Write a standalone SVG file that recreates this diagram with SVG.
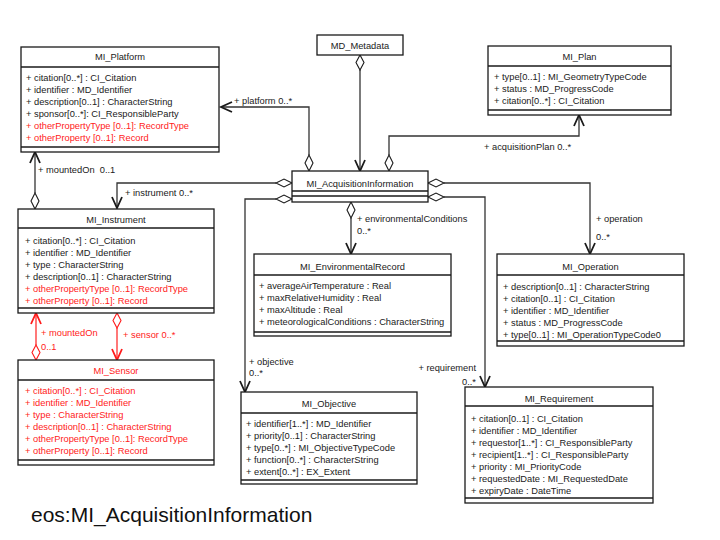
<svg xmlns="http://www.w3.org/2000/svg" width="720" height="540" viewBox="0 0 720 540">
<style>
text{font-family:"Liberation Sans",Arial,sans-serif;font-size:9.3px;fill:#1a1a1a}
.t{text-anchor:middle}
.box{fill:#fff;stroke:#1a1a1a;stroke-width:1.3}
.sep{stroke:#1a1a1a;stroke-width:1.3}
.red text,text.red{fill:#ff1a1a}
.red .box,.red .sep{stroke:#1a1a1a}
.ln{fill:none;stroke:#333;stroke-width:1.3}
.arr{fill:none;stroke:#1a1a1a;stroke-width:1.8}
.dia{fill:#fff;stroke:#1a1a1a;stroke-width:1.1}
.rln{fill:none;stroke:#ff3030;stroke-width:1.3}
.rarr{fill:none;stroke:#ff1a1a;stroke-width:1.8}
.rdia{fill:#fff;stroke:#ff1a1a;stroke-width:1.1}
.big{font-size:21px;fill:#111}
</style>
<rect width="720" height="540" fill="#fff"/>

<g id="connectors">
  <!-- platform -->
  <polyline class="ln" points="309,155 309,107 221,107"/>
  <polyline class="arr" points="232,102 221,107 232,112"/>
  <polygon class="dia" points="309,171 305,163 309,155 313,163"/>
  <text x="234" y="104">+ platform 0..*</text>
  <!-- MD_Metadata -->
  <polyline class="ln" points="360,70 360,171"/>
  <polygon class="dia" points="360,55 356,62.5 360,70 364,62.5"/>
  <polyline class="arr" points="355,160 360,171 365,160"/>
  <!-- acquisitionPlan -->
  <polyline class="ln" points="389,155 389,136 579,136 579,115"/>
  <polygon class="dia" points="389,171 385,163 389,155 393,163"/>
  <polyline class="arr" points="574,126 579,115 584,126"/>
  <text x="484" y="150">+ acquisitionPlan 0..*</text>
  <!-- instrument -->
  <polyline class="ln" points="276,183 117,183 117,208"/>
  <polygon class="dia" points="292,183 284,179 276,183 284,187"/>
  <polyline class="arr" points="112,197 117,208 122,197"/>
  <text x="125" y="195.5">+ instrument 0..*</text>
  <!-- objective -->
  <polyline class="ln" points="276,199 245,199 245,392"/>
  <polygon class="dia" points="292,199 284,195 276,199 284,203"/>
  <polyline class="arr" points="240,381 245,392 250,381"/>
  <text x="249" y="365">+ objective</text>
  <text x="249" y="376">0..*</text>
  <!-- environmentalConditions -->
  <polyline class="ln" points="351,218 351,254"/>
  <polygon class="dia" points="351,202 347,210 351,218 355,210"/>
  <polyline class="arr" points="346,243 351,254 356,243"/>
  <text x="357" y="222">+ environmentalConditions</text>
  <text x="357" y="234">0..*</text>
  <!-- operation -->
  <polyline class="ln" points="444,183 590,183 590,254"/>
  <polygon class="dia" points="428,183 436,179 444,183 436,187"/>
  <polyline class="arr" points="585,243 590,254 595,243"/>
  <text x="596" y="222">+ operation</text>
  <text x="596" y="240">0..*</text>
  <!-- requirement -->
  <polyline class="ln" points="444,197 485,197 485,387"/>
  <polygon class="dia" points="428,197 436,193 444,197 436,201"/>
  <polyline class="arr" points="480,376 485,387 490,376"/>
  <text x="476" y="371" style="text-anchor:end">+ requirement</text>
  <text x="476" y="385" style="text-anchor:end">0..*</text>
  <!-- platform mountedOn -->
  <polyline class="ln" points="35,152 35,193"/>
  <polyline class="arr" points="30,163 35,152 40,163"/>
  <polygon class="dia" points="35,193 31,201 35,209 39,201"/>
  <text x="38" y="172.5" xml:space="preserve">+ mountedOn  0..1</text>
  <!-- sensor mountedOn (red) -->
  <polyline class="rln" points="36,313 36,345"/>
  <polyline class="rarr" points="31,324 36,313 41,324"/>
  <polygon class="rdia" points="36,345 32,352.5 36,360 40,352.5"/>
  <text class="red" x="41" y="336">+ mountedOn</text>
  <text class="red" x="41" y="350">0..1</text>
  <!-- sensor (red) -->
  <polyline class="rln" points="117,328 117,360"/>
  <polygon class="rdia" points="117,313 113,320.5 117,328 121,320.5"/>
  <polyline class="rarr" points="112,349 117,360 122,349"/>
  <text class="red" x="123" y="337.5">+ sensor 0..*</text>
</g>

<g id="MI_Platform">
  <rect class="box" x="21" y="47" width="198" height="105"/>
  <line class="sep" x1="21" y1="67" x2="219" y2="67"/>
  <line class="sep" x1="21" y1="147" x2="219" y2="147"/>
  <text class="t" x="120" y="60">MI_Platform</text>
  <text x="26" y="81">+ citation[0..*] : CI_Citation</text>
  <text x="26" y="93">+ identifier : MD_Identifier</text>
  <text x="26" y="105">+ description[0..1] : CharacterString</text>
  <text x="26" y="117">+ sponsor[0..*]: CI_ResponsibleParty</text>
  <text class="red" x="26" y="129">+ otherPropertyType [0..1]: RecordType</text>
  <text class="red" x="26" y="141">+ otherProperty [0..1]: Record</text>
</g>

<g id="MD_Metadata">
  <rect class="box" x="317" y="35" width="86" height="20"/>
  <text class="t" x="360" y="48.5">MD_Metadata</text>
</g>

<g id="MI_Plan">
  <rect class="box" x="488" y="46" width="183" height="69"/>
  <line class="sep" x1="488" y1="66" x2="671" y2="66"/>
  <line class="sep" x1="488" y1="110" x2="671" y2="110"/>
  <text class="t" x="579.5" y="60">MI_Plan</text>
  <text x="494" y="80">+ type[0..1] : MI_GeometryTypeCode</text>
  <text x="494" y="92">+ status : MD_ProgressCode</text>
  <text x="494" y="104">+ citation[0..*] : CI_Citation</text>
</g>

<g id="MI_AcquisitionInformation">
  <rect class="box" x="292" y="171" width="136" height="31"/>
  <line class="sep" x1="292" y1="191" x2="428" y2="191"/>
  <line class="sep" x1="292" y1="196" x2="428" y2="196"/>
  <text class="t" x="360" y="186.5">MI_AcquisitionInformation</text>
</g>

<g id="MI_Instrument">
  <rect class="box" x="18" y="209" width="196" height="104"/>
  <line class="sep" x1="18" y1="228" x2="214" y2="228"/>
  <line class="sep" x1="18" y1="308" x2="214" y2="308"/>
  <text class="t" x="116" y="222.5">MI_Instrument</text>
  <text x="25" y="243.5">+ citation[0..*] : CI_Citation</text>
  <text x="25" y="255.5">+ identifier : MD_Identifier</text>
  <text x="25" y="267.5">+ type : CharacterString</text>
  <text x="25" y="279.5">+ description[0..1] : CharacterString</text>
  <text class="red" x="25" y="291.5">+ otherPropertyType [0..1]: RecordType</text>
  <text class="red" x="25" y="303.5">+ otherProperty [0..1]: Record</text>
</g>

<g id="MI_Sensor" class="red">
  <rect class="box" x="18" y="360" width="196" height="105"/>
  <line class="sep" x1="18" y1="380" x2="214" y2="380"/>
  <line class="sep" x1="18" y1="460" x2="214" y2="460"/>
  <text class="t" x="116" y="374">MI_Sensor</text>
  <text x="25" y="394">+ citation[0..*] : CI_Citation</text>
  <text x="25" y="406">+ identifier : MD_Identifier</text>
  <text x="25" y="418">+ type : CharacterString</text>
  <text x="25" y="430">+ description[0..1] : CharacterString</text>
  <text x="25" y="442">+ otherPropertyType [0..1]: RecordType</text>
  <text x="25" y="454">+ otherProperty [0..1]: Record</text>
</g>

<g id="MI_EnvironmentalRecord">
  <rect class="box" x="254" y="254" width="197" height="82"/>
  <line class="sep" x1="254" y1="275" x2="451" y2="275"/>
  <line class="sep" x1="254" y1="332" x2="451" y2="332"/>
  <text class="t" x="352.5" y="269.5">MI_EnvironmentalRecord</text>
  <text x="259" y="289">+ averageAirTemperature : Real</text>
  <text x="259" y="301">+ maxRelativeHumidity : Real</text>
  <text x="259" y="313">+ maxAltitude : Real</text>
  <text x="259" y="325">+ meteorologicalConditions : CharacterString</text>
</g>

<g id="MI_Operation">
  <rect class="box" x="497" y="254" width="187" height="92"/>
  <line class="sep" x1="497" y1="275" x2="684" y2="275"/>
  <line class="sep" x1="497" y1="341" x2="684" y2="341"/>
  <text class="t" x="590.5" y="269.5">MI_Operation</text>
  <text x="503" y="289.5">+ description[0..1] : CharacterString</text>
  <text x="503" y="301.5">+ citation[0..1] : CI_Citation</text>
  <text x="503" y="313.5">+ identifier : MD_Identifier</text>
  <text x="503" y="325.5">+ status : MD_ProgressCode</text>
  <text x="503" y="337.5">+ type[0..1] : MI_OperationTypeCode0</text>
</g>

<g id="MI_Objective">
  <rect class="box" x="241" y="392" width="176" height="92"/>
  <line class="sep" x1="241" y1="413" x2="417" y2="413"/>
  <line class="sep" x1="241" y1="480" x2="417" y2="480"/>
  <text class="t" x="329" y="406.5">MI_Objective</text>
  <text x="246" y="426.5">+ identifier[1..*] : MD_Identifier</text>
  <text x="246" y="438.5">+ priority[0..1] : CharacterString</text>
  <text x="246" y="450.5">+ type[0..*] : MI_ObjectiveTypeCode</text>
  <text x="246" y="462.5">+ function[0..*] : CharacterString</text>
  <text x="246" y="474.5">+ extent[0..*] : EX_Extent</text>
</g>

<g id="MI_Requirement">
  <rect class="box" x="465" y="387" width="188" height="116"/>
  <line class="sep" x1="465" y1="406" x2="653" y2="406"/>
  <line class="sep" x1="465" y1="498" x2="653" y2="498"/>
  <text class="t" x="559" y="401.5">MI_Requirement</text>
  <text x="471" y="421.5">+ citation[0..1] : CI_Citation</text>
  <text x="471" y="433.5">+ identifier : MD_Identifier</text>
  <text x="471" y="445.5">+ requestor[1..*] : CI_ResponsibleParty</text>
  <text x="471" y="457.5">+ recipient[1..*] : CI_ResponsibleParty</text>
  <text x="471" y="469.5">+ priority : MI_PriorityCode</text>
  <text x="471" y="481.5">+ requestedDate : MI_RequestedDate</text>
  <text x="471" y="493.5">+ expiryDate : DateTime</text>
</g>

<text class="big" x="31" y="522">eos:MI_AcquisitionInformation</text>
</svg>
